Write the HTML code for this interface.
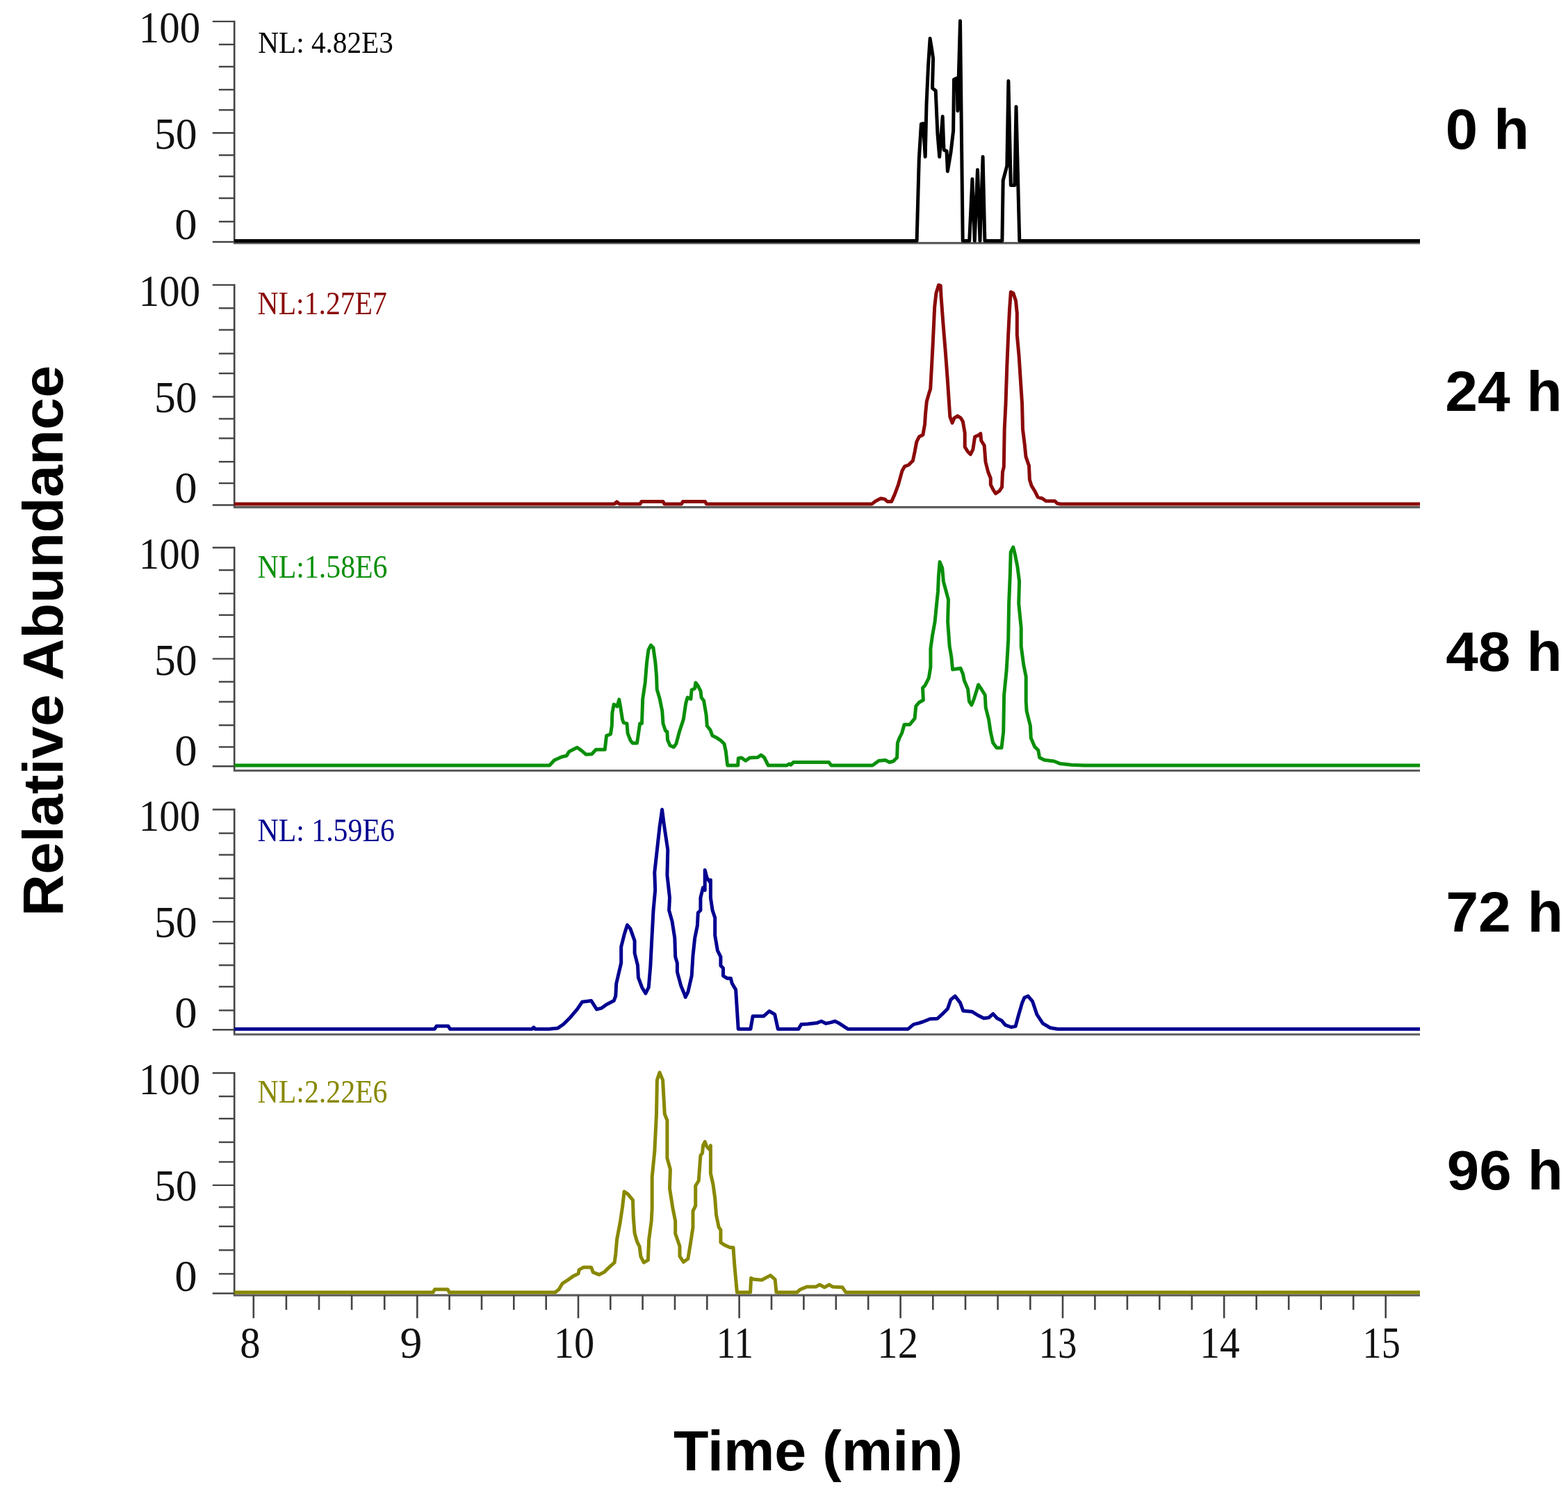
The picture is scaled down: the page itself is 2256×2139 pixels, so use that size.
<!DOCTYPE html><html><head><meta charset="utf-8"><style>html,body{margin:0;padding:0;background:#fff;}svg{display:block;}</style></head><body><svg width="2256" height="2139" viewBox="0 0 2256 2139">
<rect width="2256" height="2139" fill="#ffffff"/>
<line x1="337.2" y1="29.7" x2="337.2" y2="350.6" stroke="#444444" stroke-width="2.6"/>
<line x1="305.8" y1="30.9" x2="337.2" y2="30.9" stroke="#444444" stroke-width="2.4"/>
<line x1="314.8" y1="64.0" x2="337.2" y2="64.0" stroke="#444444" stroke-width="2.4"/>
<line x1="314.8" y1="95.9" x2="337.2" y2="95.9" stroke="#444444" stroke-width="2.4"/>
<line x1="314.8" y1="129.0" x2="337.2" y2="129.0" stroke="#444444" stroke-width="2.4"/>
<line x1="314.8" y1="158.2" x2="337.2" y2="158.2" stroke="#444444" stroke-width="2.4"/>
<line x1="305.8" y1="191.3" x2="337.2" y2="191.3" stroke="#444444" stroke-width="2.4"/>
<line x1="314.8" y1="223.2" x2="337.2" y2="223.2" stroke="#444444" stroke-width="2.4"/>
<line x1="314.8" y1="253.7" x2="337.2" y2="253.7" stroke="#444444" stroke-width="2.4"/>
<line x1="314.8" y1="285.1" x2="337.2" y2="285.1" stroke="#444444" stroke-width="2.4"/>
<line x1="314.8" y1="318.8" x2="337.2" y2="318.8" stroke="#444444" stroke-width="2.4"/>
<line x1="305.8" y1="348.0" x2="337.2" y2="348.0" stroke="#444444" stroke-width="2.4"/>
<line x1="335.9" y1="349.6" x2="2043" y2="349.6" stroke="#5c5c5c" stroke-width="3.2"/>
<path d="M337.2,346.5 L1319.1,346.5 L1322.3,228.3 L1325.4,178.5 L1328.2,177.8 L1331.2,225.5 L1333.0,150.0 L1335.5,95.0 L1338.1,55.3 L1340.5,70.0 L1342.6,84.0 L1341.5,126.8 L1346.2,130.5 L1348.9,192.0 L1351.7,225.5 L1356.2,167.6 L1358.0,215.6 L1362.0,217.4 L1363.4,246.4 L1368.0,219.2 L1371.6,188.4 L1372.5,114.2 L1377.0,112.4 L1377.9,159.4 L1381.5,30.0 L1385.2,346.5 L1394.7,346.5 L1398.9,257.4 L1402.3,346.5 L1406.5,244.2 L1410.0,346.5 L1414.1,225.5 L1416.9,346.5 L1441.9,346.5 L1443.2,259.5 L1448.8,238.7 L1450.9,116.6 L1454.3,266.4 L1459.9,266.4 L1462.0,153.4 L1466.8,346.5 L2043.0,346.5" fill="none" stroke="#000000" stroke-width="5.0" stroke-linejoin="round" stroke-linecap="butt"/>
<line x1="337.2" y1="408.7" x2="337.2" y2="730.6" stroke="#444444" stroke-width="2.6"/>
<line x1="305.8" y1="409.9" x2="337.2" y2="409.9" stroke="#444444" stroke-width="2.4"/>
<line x1="314.8" y1="443.3" x2="337.2" y2="443.3" stroke="#444444" stroke-width="2.4"/>
<line x1="314.8" y1="474.5" x2="337.2" y2="474.5" stroke="#444444" stroke-width="2.4"/>
<line x1="314.8" y1="508.6" x2="337.2" y2="508.6" stroke="#444444" stroke-width="2.4"/>
<line x1="314.8" y1="537.1" x2="337.2" y2="537.1" stroke="#444444" stroke-width="2.4"/>
<line x1="305.8" y1="570.8" x2="337.2" y2="570.8" stroke="#444444" stroke-width="2.4"/>
<line x1="314.8" y1="602.4" x2="337.2" y2="602.4" stroke="#444444" stroke-width="2.4"/>
<line x1="314.8" y1="630.5" x2="337.2" y2="630.5" stroke="#444444" stroke-width="2.4"/>
<line x1="314.8" y1="664.2" x2="337.2" y2="664.2" stroke="#444444" stroke-width="2.4"/>
<line x1="314.8" y1="695.1" x2="337.2" y2="695.1" stroke="#444444" stroke-width="2.4"/>
<line x1="305.8" y1="726.5" x2="337.2" y2="726.5" stroke="#444444" stroke-width="2.4"/>
<line x1="335.9" y1="729.6" x2="2043" y2="729.6" stroke="#5c5c5c" stroke-width="3.2"/>
<path d="M337.2,724.9 L884.0,724.9 L887.5,721.8 L891.0,724.9 L921.0,724.9 L923.0,721.5 L954.0,721.5 L956.0,724.9 L980.5,724.9 L982.5,721.5 L1014.5,721.5 L1016.5,724.9 L1254.5,724.9 L1259.9,720.7 L1267.2,717.0 L1272.6,717.9 L1277.1,721.6 L1282.6,721.6 L1287.1,711.6 L1292.5,697.1 L1298.0,677.2 L1301.6,670.8 L1307.0,669.0 L1313.4,662.7 L1316.1,650.0 L1318.8,635.5 L1322.4,628.3 L1327.9,625.5 L1330.6,610.1 L1331.5,595.7 L1333.3,577.5 L1336.9,564.9 L1338.7,559.4 L1340.5,526.8 L1342.4,490.6 L1344.7,441.7 L1346.9,421.7 L1350.5,410.0 L1353.2,410.9 L1354.1,427.2 L1356.8,463.4 L1360.5,508.7 L1363.2,544.9 L1366.8,599.3 L1370.1,608.3 L1373.2,601.1 L1377.7,598.4 L1382.2,601.1 L1385.4,606.5 L1388.2,622.8 L1388.2,642.8 L1392.7,650.0 L1396.3,653.6 L1399.9,646.4 L1402.6,628.3 L1407.2,626.4 L1410.8,623.7 L1411.7,633.7 L1416.2,640.9 L1418.0,664.5 L1421.7,679.0 L1425.3,688.0 L1425.3,697.1 L1428.9,704.3 L1432.5,709.8 L1438.0,706.2 L1441.6,700.7 L1442.5,679.0 L1444.3,671.7 L1445.2,617.4 L1447.0,581.2 L1448.8,526.8 L1450.7,481.5 L1452.5,445.3 L1454.3,419.9 L1457.9,421.7 L1461.5,432.6 L1463.3,450.7 L1463.3,481.5 L1466.1,512.3 L1468.8,554.0 L1470.6,581.2 L1471.5,617.4 L1474.2,639.1 L1476.0,657.2 L1480.5,669.9 L1481.4,689.9 L1484.2,698.9 L1488.7,706.2 L1493.2,715.2 L1499.6,717.0 L1505.0,720.7 L1517.7,720.7 L1521.3,724.3 L1526.0,724.9 L2043.0,724.9" fill="none" stroke="#8b0a0a" stroke-width="5.0" stroke-linejoin="round" stroke-linecap="butt"/>
<line x1="337.2" y1="786.5" x2="337.2" y2="1109.5" stroke="#444444" stroke-width="2.6"/>
<line x1="305.8" y1="787.7" x2="337.2" y2="787.7" stroke="#444444" stroke-width="2.4"/>
<line x1="314.8" y1="820.1" x2="337.2" y2="820.1" stroke="#444444" stroke-width="2.4"/>
<line x1="314.8" y1="853.8" x2="337.2" y2="853.8" stroke="#444444" stroke-width="2.4"/>
<line x1="314.8" y1="884.7" x2="337.2" y2="884.7" stroke="#444444" stroke-width="2.4"/>
<line x1="314.8" y1="916.1" x2="337.2" y2="916.1" stroke="#444444" stroke-width="2.4"/>
<line x1="305.8" y1="947.6" x2="337.2" y2="947.6" stroke="#444444" stroke-width="2.4"/>
<line x1="314.8" y1="980.7" x2="337.2" y2="980.7" stroke="#444444" stroke-width="2.4"/>
<line x1="314.8" y1="1009.5" x2="337.2" y2="1009.5" stroke="#444444" stroke-width="2.4"/>
<line x1="314.8" y1="1043.2" x2="337.2" y2="1043.2" stroke="#444444" stroke-width="2.4"/>
<line x1="314.8" y1="1074.5" x2="337.2" y2="1074.5" stroke="#444444" stroke-width="2.4"/>
<line x1="305.8" y1="1102.2" x2="337.2" y2="1102.2" stroke="#444444" stroke-width="2.4"/>
<line x1="335.9" y1="1108.5" x2="2043" y2="1108.5" stroke="#5c5c5c" stroke-width="3.2"/>
<path d="M337.2,1101.0 L790.6,1101.0 L797.6,1093.5 L808.1,1088.8 L815.2,1087.1 L818.7,1081.2 L826.9,1077.1 L830.4,1075.3 L836.3,1079.4 L843.3,1085.3 L851.5,1084.7 L857.4,1078.3 L870.3,1078.3 L872.6,1058.3 L878.5,1056.0 L880.3,1044.2 L880.9,1025.5 L883.2,1013.2 L886.1,1014.9 L887.9,1016.1 L890.8,1006.1 L892.6,1016.1 L895.5,1034.9 L897.3,1039.6 L902.0,1040.7 L903.1,1054.8 L907.2,1065.4 L910.2,1068.9 L916.6,1068.9 L920.7,1040.7 L923.5,1040.7 L924.7,1005.5 L928.2,982.1 L930.6,952.8 L932.9,935.2 L936.4,928.1 L939.9,931.7 L942.9,952.8 L944.6,972.7 L945.2,991.5 L949.3,1005.5 L952.8,1023.1 L954.0,1040.7 L957.5,1051.3 L959.9,1052.5 L960.5,1064.2 L964.0,1072.4 L969.3,1074.7 L972.8,1070.1 L977.5,1052.5 L983.3,1034.9 L986.8,1011.4 L989.2,1003.2 L993.9,1005.5 L995.1,992.6 L999.7,990.3 L1000.9,982.1 L1004.4,986.8 L1008.0,993.8 L1009.1,1003.2 L1012.6,1007.9 L1016.2,1029.0 L1017.3,1044.2 L1022.0,1050.1 L1025.0,1058.3 L1030.2,1060.7 L1037.3,1065.4 L1042.0,1070.1 L1044.3,1080.6 L1046.7,1101.0 L1061.7,1101.0 L1062.3,1090.7 L1067.0,1090.1 L1072.8,1094.2 L1078.6,1090.1 L1090.2,1089.5 L1094.9,1086.0 L1099.5,1089.5 L1105.3,1101.0 L1132.1,1101.0 L1135.5,1098.8 L1138.0,1100.2 L1141.4,1096.5 L1192.5,1096.5 L1196.0,1101.0 L1255.3,1101.0 L1264.6,1094.2 L1273.9,1093.6 L1279.7,1096.5 L1285.3,1095.0 L1290.6,1089.7 L1291.4,1068.6 L1294.1,1061.5 L1297.6,1054.5 L1301.1,1042.2 L1309.0,1042.2 L1316.1,1033.4 L1317.8,1015.8 L1322.2,1010.5 L1328.4,1007.0 L1327.5,989.4 L1331.0,985.9 L1336.3,975.3 L1338.9,959.5 L1338.9,933.1 L1341.6,913.7 L1345.1,894.4 L1347.7,868.0 L1349.5,850.4 L1350.4,829.3 L1352.1,808.2 L1355.7,817.0 L1357.4,836.3 L1364.5,862.7 L1363.6,894.4 L1366.2,929.6 L1368.9,945.4 L1370.6,963.0 L1382.1,961.2 L1385.6,970.0 L1387.3,978.8 L1392.6,991.2 L1394.4,1008.8 L1397.9,1014.1 L1401.4,1005.3 L1405.8,991.2 L1407.6,985.0 L1412.0,991.2 L1417.3,1000.0 L1418.2,1017.6 L1422.6,1035.2 L1425.2,1052.8 L1428.7,1068.6 L1434.0,1075.7 L1441.0,1075.7 L1443.7,1052.8 L1444.6,1000.0 L1448.1,964.8 L1450.7,920.8 L1451.6,868.0 L1453.4,824.0 L1454.2,794.1 L1457.8,787.0 L1460.4,797.6 L1463.9,815.2 L1466.6,836.3 L1465.7,868.0 L1469.2,903.2 L1469.2,929.6 L1472.7,956.0 L1476.2,973.6 L1476.2,1008.8 L1477.1,1022.9 L1482.4,1044.0 L1483.3,1061.6 L1488.6,1073.9 L1493.8,1079.2 L1495.6,1089.7 L1502.6,1093.3 L1516.7,1095.0 L1525.5,1098.6 L1541.4,1100.3 L1560.0,1101.0 L2043.0,1101.0" fill="none" stroke="#0a8f0a" stroke-width="5.0" stroke-linejoin="round" stroke-linecap="butt"/>
<line x1="337.2" y1="1163.3" x2="337.2" y2="1489.0" stroke="#444444" stroke-width="2.6"/>
<line x1="305.8" y1="1164.5" x2="337.2" y2="1164.5" stroke="#444444" stroke-width="2.4"/>
<line x1="314.8" y1="1198.6" x2="337.2" y2="1198.6" stroke="#444444" stroke-width="2.4"/>
<line x1="314.8" y1="1229.6" x2="337.2" y2="1229.6" stroke="#444444" stroke-width="2.4"/>
<line x1="314.8" y1="1263.7" x2="337.2" y2="1263.7" stroke="#444444" stroke-width="2.4"/>
<line x1="314.8" y1="1292.0" x2="337.2" y2="1292.0" stroke="#444444" stroke-width="2.4"/>
<line x1="305.8" y1="1325.9" x2="337.2" y2="1325.9" stroke="#444444" stroke-width="2.4"/>
<line x1="314.8" y1="1357.1" x2="337.2" y2="1357.1" stroke="#444444" stroke-width="2.4"/>
<line x1="314.8" y1="1388.4" x2="337.2" y2="1388.4" stroke="#444444" stroke-width="2.4"/>
<line x1="314.8" y1="1419.3" x2="337.2" y2="1419.3" stroke="#444444" stroke-width="2.4"/>
<line x1="314.8" y1="1453.4" x2="337.2" y2="1453.4" stroke="#444444" stroke-width="2.4"/>
<line x1="305.8" y1="1481.2" x2="337.2" y2="1481.2" stroke="#444444" stroke-width="2.4"/>
<line x1="335.9" y1="1488.0" x2="2043" y2="1488.0" stroke="#5c5c5c" stroke-width="3.2"/>
<path d="M337.2,1480.2 L625.3,1480.2 L628.0,1476.0 L645.0,1476.0 L647.5,1480.2 L765.5,1480.2 L767.8,1477.8 L770.0,1480.2 L790.0,1480.2 L802.3,1479.1 L811.1,1473.0 L819.9,1464.2 L830.4,1451.9 L837.5,1441.3 L850.7,1439.6 L858.6,1451.9 L865.6,1450.1 L872.6,1444.9 L883.2,1439.6 L885.8,1432.6 L886.7,1415.0 L893.7,1385.1 L893.7,1362.2 L898.1,1344.6 L902.5,1330.6 L906.9,1335.8 L913.1,1353.4 L913.1,1371.0 L917.5,1388.6 L918.4,1406.2 L923.6,1420.2 L928.9,1429.0 L933.3,1420.2 L935.9,1388.6 L937.7,1353.4 L940.0,1310.0 L942.7,1280.0 L941.8,1255.1 L945.4,1222.5 L949.0,1189.9 L952.6,1164.5 L955.4,1186.2 L960.8,1222.5 L959.9,1258.7 L963.5,1291.3 L962.6,1309.4 L967.1,1325.7 L970.8,1349.3 L971.7,1376.4 L974.4,1385.5 L974.4,1398.2 L979.8,1418.1 L984.3,1429.0 L986.2,1434.4 L989.8,1427.2 L995.2,1403.6 L997.0,1374.6 L999.7,1349.3 L1003.4,1331.2 L1004.3,1313.0 L1007.9,1309.4 L1007.9,1291.3 L1011.5,1276.8 L1014.2,1280.4 L1014.2,1251.4 L1017.0,1262.3 L1020.6,1267.8 L1022.4,1265.9 L1022.4,1291.3 L1025.1,1309.4 L1028.7,1320.3 L1028.7,1345.7 L1032.4,1367.4 L1036.9,1376.4 L1036.9,1389.1 L1040.5,1392.8 L1040.5,1403.6 L1045.9,1407.2 L1051.4,1407.2 L1053.2,1414.5 L1058.6,1423.6 L1062.2,1480.2 L1079.9,1480.2 L1083.1,1461.7 L1098.9,1461.7 L1106.8,1454.5 L1114.7,1459.1 L1119.3,1480.2 L1148.8,1480.2 L1152.8,1473.6 L1162.0,1472.9 L1175.1,1471.6 L1181.7,1469.0 L1188.2,1472.3 L1194.8,1470.9 L1201.4,1469.0 L1207.9,1472.3 L1219.8,1480.2 L1306.5,1480.2 L1314.4,1473.6 L1322.2,1471.6 L1327.4,1470.0 L1338.0,1465.8 L1348.7,1465.3 L1355.0,1459.4 L1363.5,1450.9 L1367.8,1438.2 L1374.1,1432.9 L1381.5,1442.4 L1385.8,1454.1 L1398.5,1455.2 L1407.0,1460.5 L1415.5,1464.7 L1422.9,1463.7 L1428.8,1458.4 L1434.6,1464.7 L1441.0,1467.9 L1446.3,1474.3 L1454.8,1477.5 L1461.1,1476.4 L1465.4,1460.5 L1470.7,1442.4 L1473.9,1435.0 L1479.2,1432.9 L1485.5,1440.3 L1491.9,1459.4 L1500.4,1472.2 L1511.0,1478.5 L1521.6,1480.2 L2043.0,1480.2" fill="none" stroke="#000090" stroke-width="5.0" stroke-linejoin="round" stroke-linecap="butt"/>
<line x1="337.2" y1="1542.3" x2="337.2" y2="1864.2" stroke="#444444" stroke-width="2.6"/>
<line x1="305.8" y1="1543.5" x2="337.2" y2="1543.5" stroke="#444444" stroke-width="2.4"/>
<line x1="314.8" y1="1577.1" x2="337.2" y2="1577.1" stroke="#444444" stroke-width="2.4"/>
<line x1="314.8" y1="1609.1" x2="337.2" y2="1609.1" stroke="#444444" stroke-width="2.4"/>
<line x1="314.8" y1="1643.0" x2="337.2" y2="1643.0" stroke="#444444" stroke-width="2.4"/>
<line x1="314.8" y1="1671.4" x2="337.2" y2="1671.4" stroke="#444444" stroke-width="2.4"/>
<line x1="305.8" y1="1704.9" x2="337.2" y2="1704.9" stroke="#444444" stroke-width="2.4"/>
<line x1="314.8" y1="1736.4" x2="337.2" y2="1736.4" stroke="#444444" stroke-width="2.4"/>
<line x1="314.8" y1="1764.1" x2="337.2" y2="1764.1" stroke="#444444" stroke-width="2.4"/>
<line x1="314.8" y1="1798.3" x2="337.2" y2="1798.3" stroke="#444444" stroke-width="2.4"/>
<line x1="314.8" y1="1832.4" x2="337.2" y2="1832.4" stroke="#444444" stroke-width="2.4"/>
<line x1="305.8" y1="1860.5" x2="337.2" y2="1860.5" stroke="#444444" stroke-width="2.4"/>
<line x1="335.9" y1="1863.2" x2="2043" y2="1863.2" stroke="#5c5c5c" stroke-width="3.2"/>
<path d="M337.2,1858.9 L623.2,1858.9 L625.5,1854.8 L644.0,1854.8 L646.5,1858.9 L790.0,1858.9 L798.8,1858.9 L804.1,1854.8 L809.3,1846.0 L816.4,1841.6 L825.2,1835.4 L832.2,1831.9 L833.1,1826.6 L839.2,1823.1 L850.7,1823.1 L853.3,1830.1 L862.1,1833.6 L869.1,1830.1 L876.2,1823.1 L884.1,1816.1 L885.8,1803.8 L887.6,1782.7 L892.0,1759.8 L895.5,1736.9 L898.1,1714.1 L903.4,1717.6 L910.5,1726.4 L911.3,1751.0 L913.1,1773.9 L916.6,1786.2 L920.1,1793.2 L921.9,1807.3 L926.3,1816.1 L932.4,1812.6 L933.6,1783.6 L937.2,1756.5 L938.2,1738.3 L938.2,1693.0 L941.8,1656.8 L944.5,1602.5 L945.4,1553.6 L949.0,1542.7 L953.6,1553.6 L956.3,1602.5 L959.9,1611.5 L959.9,1665.9 L964.4,1682.2 L963.5,1709.3 L968.0,1738.3 L971.7,1756.5 L971.7,1774.6 L978.0,1792.7 L978.0,1807.2 L983.4,1815.3 L989.8,1810.8 L993.4,1789.1 L997.0,1765.5 L997.0,1742.0 L1000.7,1734.7 L1000.7,1705.7 L1005.2,1698.5 L1007.9,1662.2 L1010.6,1658.6 L1011.5,1647.8 L1014.2,1642.3 L1017.0,1649.6 L1020.6,1653.2 L1022.4,1647.8 L1022.4,1687.6 L1026.0,1703.9 L1028.7,1723.8 L1030.5,1747.4 L1034.2,1765.5 L1036.9,1769.1 L1036.9,1787.2 L1042.3,1790.9 L1050.5,1794.5 L1055.0,1794.5 L1056.8,1819.9 L1060.4,1858.9 L1079.6,1858.9 L1080.6,1838.4 L1084.4,1840.3 L1095.9,1841.3 L1108.4,1834.6 L1115.1,1840.3 L1117.0,1858.9 L1146.8,1858.9 L1151.6,1854.7 L1161.2,1850.9 L1173.7,1850.9 L1179.4,1848.0 L1186.2,1851.8 L1192.9,1848.0 L1197.7,1850.9 L1212.1,1851.8 L1216.9,1858.9 L2043.0,1858.9" fill="none" stroke="#888800" stroke-width="5.0" stroke-linejoin="round" stroke-linecap="butt"/>
<line x1="364.8" y1="1863.2" x2="364.8" y2="1896.2" stroke="#444444" stroke-width="2.6"/>
<line x1="411.9" y1="1863.2" x2="411.9" y2="1884.2" stroke="#444444" stroke-width="2.6"/>
<line x1="459.0" y1="1863.2" x2="459.0" y2="1884.2" stroke="#444444" stroke-width="2.6"/>
<line x1="506.1" y1="1863.2" x2="506.1" y2="1884.2" stroke="#444444" stroke-width="2.6"/>
<line x1="553.2" y1="1863.2" x2="553.2" y2="1884.2" stroke="#444444" stroke-width="2.6"/>
<line x1="600.3" y1="1863.2" x2="600.3" y2="1896.2" stroke="#444444" stroke-width="2.6"/>
<line x1="646.6" y1="1863.2" x2="646.6" y2="1884.2" stroke="#444444" stroke-width="2.6"/>
<line x1="693.0" y1="1863.2" x2="693.0" y2="1884.2" stroke="#444444" stroke-width="2.6"/>
<line x1="739.3" y1="1863.2" x2="739.3" y2="1884.2" stroke="#444444" stroke-width="2.6"/>
<line x1="785.7" y1="1863.2" x2="785.7" y2="1884.2" stroke="#444444" stroke-width="2.6"/>
<line x1="832.0" y1="1863.2" x2="832.0" y2="1896.2" stroke="#444444" stroke-width="2.6"/>
<line x1="878.3" y1="1863.2" x2="878.3" y2="1884.2" stroke="#444444" stroke-width="2.6"/>
<line x1="924.6" y1="1863.2" x2="924.6" y2="1884.2" stroke="#444444" stroke-width="2.6"/>
<line x1="971.0" y1="1863.2" x2="971.0" y2="1884.2" stroke="#444444" stroke-width="2.6"/>
<line x1="1017.3" y1="1863.2" x2="1017.3" y2="1884.2" stroke="#444444" stroke-width="2.6"/>
<line x1="1063.6" y1="1863.2" x2="1063.6" y2="1896.2" stroke="#444444" stroke-width="2.6"/>
<line x1="1110.0" y1="1863.2" x2="1110.0" y2="1884.2" stroke="#444444" stroke-width="2.6"/>
<line x1="1156.4" y1="1863.2" x2="1156.4" y2="1884.2" stroke="#444444" stroke-width="2.6"/>
<line x1="1202.8" y1="1863.2" x2="1202.8" y2="1884.2" stroke="#444444" stroke-width="2.6"/>
<line x1="1249.2" y1="1863.2" x2="1249.2" y2="1884.2" stroke="#444444" stroke-width="2.6"/>
<line x1="1295.6" y1="1863.2" x2="1295.6" y2="1896.2" stroke="#444444" stroke-width="2.6"/>
<line x1="1342.3" y1="1863.2" x2="1342.3" y2="1884.2" stroke="#444444" stroke-width="2.6"/>
<line x1="1389.0" y1="1863.2" x2="1389.0" y2="1884.2" stroke="#444444" stroke-width="2.6"/>
<line x1="1435.6" y1="1863.2" x2="1435.6" y2="1884.2" stroke="#444444" stroke-width="2.6"/>
<line x1="1482.3" y1="1863.2" x2="1482.3" y2="1884.2" stroke="#444444" stroke-width="2.6"/>
<line x1="1529.0" y1="1863.2" x2="1529.0" y2="1896.2" stroke="#444444" stroke-width="2.6"/>
<line x1="1575.4" y1="1863.2" x2="1575.4" y2="1884.2" stroke="#444444" stroke-width="2.6"/>
<line x1="1621.9" y1="1863.2" x2="1621.9" y2="1884.2" stroke="#444444" stroke-width="2.6"/>
<line x1="1668.3" y1="1863.2" x2="1668.3" y2="1884.2" stroke="#444444" stroke-width="2.6"/>
<line x1="1714.8" y1="1863.2" x2="1714.8" y2="1884.2" stroke="#444444" stroke-width="2.6"/>
<line x1="1761.2" y1="1863.2" x2="1761.2" y2="1896.2" stroke="#444444" stroke-width="2.6"/>
<line x1="1807.7" y1="1863.2" x2="1807.7" y2="1884.2" stroke="#444444" stroke-width="2.6"/>
<line x1="1854.2" y1="1863.2" x2="1854.2" y2="1884.2" stroke="#444444" stroke-width="2.6"/>
<line x1="1900.7" y1="1863.2" x2="1900.7" y2="1884.2" stroke="#444444" stroke-width="2.6"/>
<line x1="1947.2" y1="1863.2" x2="1947.2" y2="1884.2" stroke="#444444" stroke-width="2.6"/>
<line x1="1993.7" y1="1863.2" x2="1993.7" y2="1896.2" stroke="#444444" stroke-width="2.6"/>
<text transform="matrix(0.9819,0,0,1.0513,199.79,61.30)" font-family="Liberation Serif, serif" font-size="60" fill="#111">100</text>
<text transform="matrix(1.0278,0,0,1.0641,221.89,214.30)" font-family="Liberation Serif, serif" font-size="60" fill="#111">50</text>
<text transform="matrix(1.0808,0,0,1.0641,251.24,343.90)" font-family="Liberation Serif, serif" font-size="60" fill="#111">0</text>
<text transform="matrix(0.9819,0,0,1.0513,199.79,440.30)" font-family="Liberation Serif, serif" font-size="60" fill="#111">100</text>
<text transform="matrix(1.0278,0,0,1.0641,221.89,593.30)" font-family="Liberation Serif, serif" font-size="60" fill="#111">50</text>
<text transform="matrix(1.0808,0,0,1.0641,251.24,722.90)" font-family="Liberation Serif, serif" font-size="60" fill="#111">0</text>
<text transform="matrix(0.9819,0,0,1.0513,199.79,818.10)" font-family="Liberation Serif, serif" font-size="60" fill="#111">100</text>
<text transform="matrix(1.0278,0,0,1.0641,221.89,971.10)" font-family="Liberation Serif, serif" font-size="60" fill="#111">50</text>
<text transform="matrix(1.0808,0,0,1.0641,251.24,1100.70)" font-family="Liberation Serif, serif" font-size="60" fill="#111">0</text>
<text transform="matrix(0.9819,0,0,1.0513,199.79,1194.90)" font-family="Liberation Serif, serif" font-size="60" fill="#111">100</text>
<text transform="matrix(1.0278,0,0,1.0641,221.89,1347.90)" font-family="Liberation Serif, serif" font-size="60" fill="#111">50</text>
<text transform="matrix(1.0808,0,0,1.0641,251.24,1477.50)" font-family="Liberation Serif, serif" font-size="60" fill="#111">0</text>
<text transform="matrix(0.9819,0,0,1.0513,199.79,1573.90)" font-family="Liberation Serif, serif" font-size="60" fill="#111">100</text>
<text transform="matrix(1.0278,0,0,1.0641,221.89,1726.90)" font-family="Liberation Serif, serif" font-size="60" fill="#111">50</text>
<text transform="matrix(1.0808,0,0,1.0641,251.24,1856.50)" font-family="Liberation Serif, serif" font-size="60" fill="#111">0</text>
<text transform="matrix(0.9376,0,0,1.0241,371.16,75.50)" font-family="Liberation Serif, serif" font-size="44" fill="#000000">NL: 4.82E3</text>
<text transform="matrix(0.9469,0,0,1.0448,370.55,451.80)" font-family="Liberation Serif, serif" font-size="44" fill="#8b0a0a">NL:1.27E7</text>
<text transform="matrix(0.9505,0,0,1.0448,370.55,830.60)" font-family="Liberation Serif, serif" font-size="44" fill="#0a8f0a">NL:1.58E6</text>
<text transform="matrix(0.9498,0,0,1.0655,370.55,1209.90)" font-family="Liberation Serif, serif" font-size="44" fill="#000090">NL: 1.59E6</text>
<text transform="matrix(0.9505,0,0,1.0655,370.55,1586.20)" font-family="Liberation Serif, serif" font-size="44" fill="#888800">NL:2.22E6</text>
<text transform="matrix(0.9809,0,0,0.9540,2079.76,213.75)" font-family="Liberation Sans, sans-serif" font-weight="bold" font-size="85" fill="#000">0 h</text>
<text transform="matrix(0.9895,0,0,0.9629,2079.23,590.70)" font-family="Liberation Sans, sans-serif" font-weight="bold" font-size="85" fill="#000">24 h</text>
<text transform="matrix(0.9829,0,0,0.9476,2080.32,965.15)" font-family="Liberation Sans, sans-serif" font-weight="bold" font-size="85" fill="#000">48 h</text>
<text transform="matrix(0.9925,0,0,0.9694,2080.13,1339.70)" font-family="Liberation Sans, sans-serif" font-weight="bold" font-size="85" fill="#000">72 h</text>
<text transform="matrix(0.9833,0,0,0.9333,2081.65,1711.47)" font-family="Liberation Sans, sans-serif" font-weight="bold" font-size="85" fill="#000">96 h</text>
<text transform="matrix(0.9769,0,0,1.0410,345.15,1953.20)" font-family="Liberation Serif, serif" font-size="60" fill="#111">8</text>
<text transform="matrix(1.0615,0,0,1.0410,575.58,1953.20)" font-family="Liberation Serif, serif" font-size="60" fill="#111">9</text>
<text transform="matrix(0.9755,0,0,1.0410,796.82,1953.20)" font-family="Liberation Serif, serif" font-size="60" fill="#111">10</text>
<text transform="matrix(0.9286,0,0,1.0410,1030.46,1953.20)" font-family="Liberation Serif, serif" font-size="60" fill="#111">11</text>
<text transform="matrix(0.9788,0,0,1.0410,1262.31,1953.20)" font-family="Liberation Serif, serif" font-size="60" fill="#111">12</text>
<text transform="matrix(0.9151,0,0,1.0410,1494.52,1953.20)" font-family="Liberation Serif, serif" font-size="60" fill="#111">13</text>
<text transform="matrix(0.9574,0,0,1.0410,1726.21,1953.20)" font-family="Liberation Serif, serif" font-size="60" fill="#111">14</text>
<text transform="matrix(0.9019,0,0,1.0410,1960.59,1953.20)" font-family="Liberation Serif, serif" font-size="60" fill="#111">15</text>
<text transform="matrix(0.9952,0,0,0.9833,969.00,2115.48)" font-family="Liberation Sans, sans-serif" font-weight="bold" font-size="83" fill="#000">Time (min)</text>
<text transform="translate(89.91,1317.92) rotate(-90) scale(1.0027,0.9919)" font-family="Liberation Sans, sans-serif" font-weight="bold" font-size="83" fill="#000">Relative Abundance</text>
</svg></body></html>
